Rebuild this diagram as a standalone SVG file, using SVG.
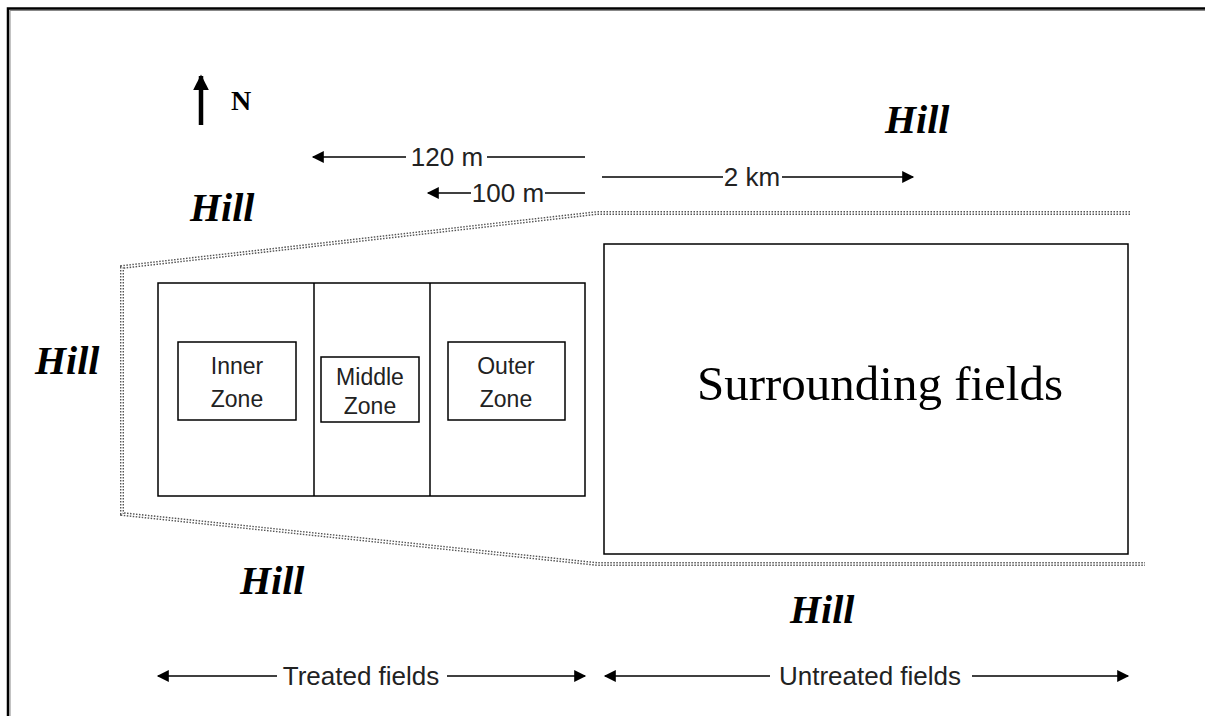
<svg xmlns="http://www.w3.org/2000/svg" width="1205" height="716" viewBox="0 0 1205 716">
<defs>
<marker id="ah" viewBox="0 0 10 10" refX="9" refY="5" markerWidth="14" markerHeight="12" markerUnits="userSpaceOnUse" orient="auto">
<path d="M0,0 L10,5 L0,10 z" fill="#000"/>
</marker>
<marker id="ahN" viewBox="0 0 10 10" refX="9" refY="5" markerWidth="16" markerHeight="18" markerUnits="userSpaceOnUse" orient="auto">
<path d="M0,0 L10,5 L0,10 z" fill="#000"/>
</marker>
</defs>
<style>
.hill{font-family:"Liberation Serif",serif;font-style:italic;font-weight:bold;font-size:40px;fill:#000}
.lbl{font-family:"Liberation Sans",Arial,sans-serif;font-size:26px;fill:#222;text-anchor:middle}
.zone{font-family:"Liberation Sans",Arial,sans-serif;font-size:23px;fill:#222;text-anchor:middle}
.box{fill:none;stroke:#000;stroke-width:1.5}
.dim{stroke:#000;stroke-width:1.5;fill:none}
.dot{fill:none;stroke:#555;stroke-width:4;stroke-dasharray:1.5 1.5}
.dotw{fill:none;stroke:#fff;stroke-width:1.2}
</style>
<rect width="1205" height="716" fill="#fff"/>
<path d="M8,716 V8.5 H1205" fill="none" stroke="#000" stroke-width="2.5"/>
<path d="M10,716 V10.5 H1205" fill="none" stroke="#888" stroke-width="1"/>

<g id="north">
<line x1="201" y1="125" x2="201" y2="76" stroke="#000" stroke-width="4.5" marker-end="url(#ahN)"/>
<text x="231" y="110" font-family="Liberation Serif,serif" font-weight="bold" font-size="28">N</text>
</g>

<g id="hills">
<text class="hill" x="885" y="133">Hill</text>
<text class="hill" x="190" y="221">Hill</text>
<text class="hill" x="35" y="374">Hill</text>
<text class="hill" x="240" y="594">Hill</text>
<text class="hill" x="790" y="623">Hill</text>
</g>

<g id="boundary">
<path class="dot" d="M1130,213 H597 L122,267 V514 L597,564 H1145"/>
<path class="dotw" d="M1130,213 H597 L122,267 V514 L597,564 H1145"/>
</g>

<g id="treated">
<rect class="box" x="158" y="283" width="427" height="213"/>
<line class="box" x1="314" y1="283" x2="314" y2="496"/>
<line class="box" x1="430" y1="283" x2="430" y2="496"/>
</g>
<g id="inner-zone">
<rect class="box" x="178" y="342" width="118" height="78"/>
<text class="zone" x="237" y="374">Inner</text>
<text class="zone" x="237" y="407">Zone</text>
</g>
<g id="middle-zone">
<rect class="box" x="321" y="357" width="98" height="65"/>
<text class="zone" x="370" y="385">Middle</text>
<text class="zone" x="370" y="414">Zone</text>
</g>
<g id="outer-zone">
<rect class="box" x="448" y="342" width="117" height="78"/>
<text class="zone" x="506" y="374">Outer</text>
<text class="zone" x="506" y="407">Zone</text>
</g>
<g id="surrounding">
<rect class="box" x="604" y="244" width="524" height="310"/>
<text x="880" y="400" text-anchor="middle" font-family="Liberation Serif,serif" font-size="49">Surrounding fields</text>
</g>

<g id="connectors">
<line class="dim" x1="406" y1="157" x2="313" y2="157" marker-end="url(#ah)"/>
<line class="dim" x1="487" y1="157" x2="585" y2="157"/>
<line class="dim" x1="471" y1="193" x2="428" y2="193" marker-end="url(#ah)"/>
<line class="dim" x1="545" y1="193" x2="585" y2="193"/>
<line class="dim" x1="602" y1="177" x2="723" y2="177"/>
<line class="dim" x1="782" y1="177" x2="913" y2="177" marker-end="url(#ah)"/>
<line class="dim" x1="277" y1="676" x2="158" y2="676" marker-end="url(#ah)"/>
<line class="dim" x1="447" y1="676" x2="585" y2="676" marker-end="url(#ah)"/>
<line class="dim" x1="770" y1="676" x2="605" y2="676" marker-end="url(#ah)"/>
<line class="dim" x1="972" y1="676" x2="1128" y2="676" marker-end="url(#ah)"/>
</g>
<g id="labels">
<text class="lbl" x="447" y="166">120 m</text>
<text class="lbl" x="508" y="202">100 m</text>
<text class="lbl" x="752" y="186">2 km</text>
<text class="lbl" x="361" y="685">Treated fields</text>
<text class="lbl" x="870" y="685">Untreated fields</text>
</g>
</svg>
